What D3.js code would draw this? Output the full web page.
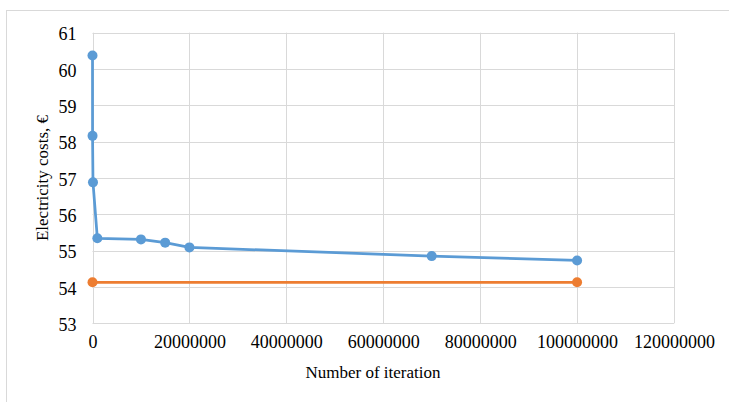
<!DOCTYPE html>
<html>
<head>
<meta charset="utf-8">
<script src="https://cdn.jsdelivr.net/npm/d3@7"></script>
<style>
  html, body { margin: 0; padding: 0; background: #fff; }
  svg { display: block; }
  text { font-family: "Liberation Serif", "Times New Roman", serif; fill: #000; }
</style>
</head>
<body>
<svg id="chart" width="729" height="402"></svg>
<script>
// Iteration counts and electricity costs (€)
const iterations = [100, 10000, 100000, 1000000, 10000000, 15000000, 20000000, 70000000, 100000000];
const costs = [60.37, 58.16, 56.88, 55.34, 55.31, 55.22, 55.09, 54.85, 54.73];
const optimumIterations = [0, 100000000];
const optimumCosts = [54.13, 54.13];
const xTicks = [0, 20000000, 40000000, 60000000, 80000000, 100000000, 120000000];
const yTicks = [53, 54, 55, 56, 57, 58, 59, 60, 61];

const svg = d3.select("#chart");
const plot = { left: 92.5, right: 674, top: 32.7, bottom: 323.3 };
const serif = '"Liberation Serif", "Times New Roman", serif';

const x = d3.scaleLinear().domain([0, 120000000]).range([plot.left, plot.right]);
const y = d3.scaleLinear().domain([53, 61]).range([plot.bottom, plot.top]);

// chart area border
svg.append("rect")
  .attr("x", 6.5).attr("y", 10.5)
  .attr("width", 740).attr("height", 420)
  .attr("fill", "none").attr("stroke", "#d9d9d9").attr("stroke-width", 1);

// gridlines
svg.append("g").selectAll("line").data(yTicks).join("line")
  .attr("x1", plot.left).attr("x2", plot.right)
  .attr("y1", d => Math.round(y(d)) + 0.5).attr("y2", d => Math.round(y(d)) + 0.5)
  .attr("stroke", "#d9d9d9").attr("stroke-width", 1);
svg.append("g").selectAll("line").data(xTicks).join("line")
  .attr("y1", plot.top).attr("y2", plot.bottom)
  .attr("x1", d => Math.round(x(d)) + 0.5).attr("x2", d => Math.round(x(d)) + 0.5)
  .attr("stroke", "#d9d9d9").attr("stroke-width", 1);

// axes (labels only)
const yAxis = svg.append("g").attr("transform", `translate(${plot.left - 16},1.5)`)
  .call(d3.axisLeft(y).tickValues(yTicks).tickSize(0).tickPadding(0).tickFormat(d3.format("d")));
yAxis.select(".domain").remove();
yAxis.attr("font-family", null).attr("font-size", null);
yAxis.selectAll("text").style("font-size", "18px").style("font-family", serif).style("fill", "#000");

const xAxis = svg.append("g").attr("transform", `translate(0,${plot.bottom + 12})`)
  .call(d3.axisBottom(x).tickValues(xTicks).tickSize(0).tickPadding(0).tickFormat(d3.format("d")));
xAxis.select(".domain").remove();
xAxis.attr("font-family", null).attr("font-size", null);
xAxis.selectAll("text").style("font-size", "18px").style("font-family", serif).style("fill", "#000");

// axis titles
svg.append("text")
  .attr("x", 373).attr("y", 378)
  .attr("text-anchor", "middle").style("font-size", "17px")
  .text("Number of iteration");
svg.append("text")
  .attr("transform", "translate(48,178) rotate(-90)")
  .attr("text-anchor", "middle").style("font-size", "17px")
  .text("Electricity costs, €");

const line = d3.line().x(d => x(d[0])).y(d => y(d[1]));

function drawSeries(xs, ys, color) {
  const pts = xs.map((v, i) => [v, ys[i]]);
  svg.append("path").datum(pts)
    .attr("d", line).attr("fill", "none")
    .attr("stroke", color).attr("stroke-width", 2.75)
    .attr("stroke-linejoin", "round");
  svg.append("g").selectAll("circle").data(pts).join("circle")
    .attr("cx", d => x(d[0])).attr("cy", d => y(d[1]))
    .attr("r", 5).attr("fill", color);
}

drawSeries(optimumIterations, optimumCosts, "#ed7d31");
drawSeries(iterations, costs, "#5b9bd5");
</script>
</body>
</html>
